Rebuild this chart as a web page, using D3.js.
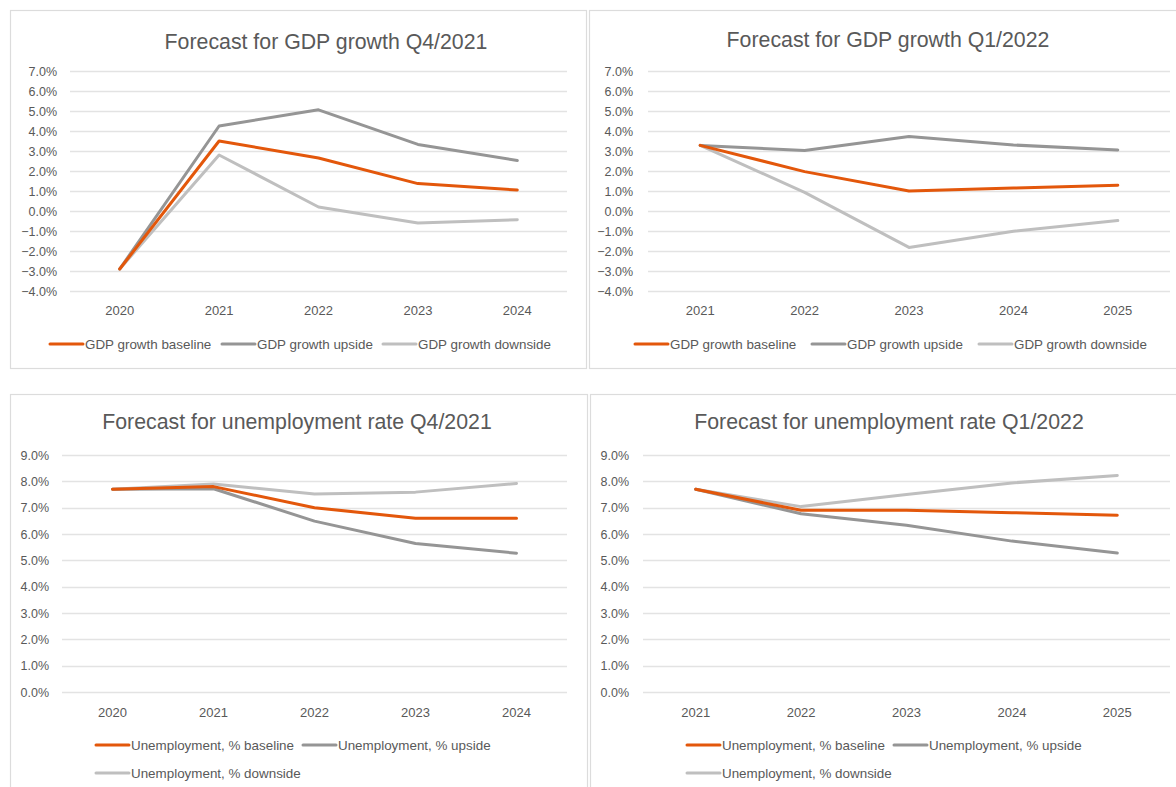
<!DOCTYPE html>
<html>
<head>
<meta charset="utf-8">
<script src="https://cdn.jsdelivr.net/npm/d3@7"></script>
<style>
  html, body { margin: 0; padding: 0; background: #ffffff; }
  svg { display: block; }
  text { font-family: "Liberation Sans", Arial, sans-serif; fill: #595959; }
</style>
</head>
<body>
<svg id="chart" width="1176" height="787"></svg>
<script>
// ---------------- DATA ----------------
const yearsQ4 = ["2020", "2021", "2022", "2023", "2024"];
const yearsQ1 = ["2021", "2022", "2023", "2024", "2025"];

const gdpTitleQ4 = "Forecast for GDP growth Q4/2021";
const gdpTitleQ1 = "Forecast for GDP growth Q1/2022";
const unTitleQ4 = "Forecast for unemployment rate Q4/2021";
const unTitleQ1 = "Forecast for unemployment rate Q1/2022";

const gdpSeriesNames = ["GDP growth baseline", "GDP growth upside", "GDP growth downside"];
const unSeriesNames = ["Unemployment, % baseline", "Unemployment, % upside", "Unemployment, % downside"];

// GDP growth, Q4/2021 forecast (%)
const gdpQ4Baseline = [-2.9, 3.5, 2.65, 1.37, 1.05];
const gdpQ4Upside   = [-2.9, 4.25, 5.06, 3.33, 2.53];
const gdpQ4Downside = [-2.9, 2.8, 0.2, -0.6, -0.44];

// GDP growth, Q1/2022 forecast (%)
const gdpQ1Baseline = [3.28, 1.97, 1.0, 1.15, 1.29];
const gdpQ1Upside   = [3.28, 3.02, 3.73, 3.3, 3.05];
const gdpQ1Downside = [3.28, 0.93, -1.82, -1.01, -0.48];

// Unemployment, Q4/2021 forecast (%)
const unQ4Baseline = [7.7, 7.8, 7.0, 6.6, 6.6];
const unQ4Upside   = [7.7, 7.72, 6.49, 5.64, 5.27];
const unQ4Downside = [7.7, 7.9, 7.52, 7.59, 7.92];

// Unemployment, Q1/2022 forecast (%)
const unQ1Baseline = [7.7, 6.9, 6.9, 6.81, 6.71];
const unQ1Upside   = [7.7, 6.77, 6.33, 5.73, 5.28];
const unQ1Downside = [7.7, 7.04, 7.5, 7.94, 8.22];

const gdpTicks = [-4, -3, -2, -1, 0, 1, 2, 3, 4, 5, 6, 7];
const unTicks = [0, 1, 2, 3, 4, 5, 6, 7, 8, 9];

// ---------------- STYLE ----------------
const seriesColors = ["#E3570B", "#959595", "#BFBFBF"];
const gridColor = "#E3E3E3";
const borderColor = "#DCDCDC";

const svg = d3.select("#chart");

function drawPanel(cfg) {
  const g = svg.append("g");

  // panel frame
  g.append("rect")
    .attr("x", cfg.box[0] + 0.5).attr("y", cfg.box[1] + 0.5)
    .attr("width", cfg.box[2]).attr("height", cfg.box[3])
    .attr("fill", "#fff").attr("stroke", borderColor).attr("stroke-width", 1.2);

  // title
  g.append("text")
    .attr("x", cfg.titleX).attr("y", cfg.titleY)
    .attr("text-anchor", "middle")
    .style("font-size", "21.3px")
    .text(cfg.title);

  const x = d3.scaleBand().domain(cfg.categories).range([cfg.plot.x0, cfg.plot.x1]);
  const y = d3.scaleLinear().domain(cfg.domain).range([cfg.plot.yBottom, cfg.plot.yTop]);

  // gridlines
  g.append("g").selectAll("line").data(cfg.ticks).join("line")
    .attr("x1", cfg.plot.x0).attr("x2", cfg.plot.x1)
    .attr("y1", d => Math.round(y(d)) + 0.5).attr("y2", d => Math.round(y(d)) + 0.5)
    .attr("stroke", gridColor).attr("stroke-width", 1.3);

  // y axis labels (via d3 axis, no domain/ticks lines)
  const yAxis = d3.axisLeft(y).tickValues(cfg.ticks)
    .tickFormat(d => d3.format(".1f")(d) + "%").tickSize(0).tickPadding(0);
  const ya = g.append("g").attr("transform", `translate(${cfg.yLabelRight},0)`).call(yAxis);
  ya.select(".domain").remove();
  ya.selectAll("text").style("font-size", "12.5px").attr("fill", "#595959")
    .style("font-family", '"Liberation Sans", Arial, sans-serif');

  // x axis labels
  const xAxis = d3.axisBottom(x).tickSize(0).tickPadding(0);
  const xa = g.append("g").attr("transform", `translate(0,${cfg.xLabelY})`).call(xAxis);
  xa.select(".domain").remove();
  xa.selectAll("text").style("font-size", "13px").attr("fill", "#595959")
    .style("font-family", '"Liberation Sans", Arial, sans-serif');

  // lines
  const line = d3.line()
    .x((d, i) => x(cfg.categories[i]) + x.bandwidth() / 2)
    .y(d => y(d));

  // draw downside, upside, then baseline on top
  [2, 1, 0].forEach(k => {
    g.append("path")
      .datum(cfg.series[k])
      .attr("d", line)
      .attr("fill", "none")
      .attr("stroke", seriesColors[k])
      .attr("stroke-width", 3)
      .attr("stroke-linejoin", "round")
      .attr("stroke-linecap", "round");
  });

  // legend
  cfg.legend.forEach((pos, k) => {
    g.append("line")
      .attr("x1", pos[0]).attr("x2", pos[0] + 33)
      .attr("y1", pos[1]).attr("y2", pos[1])
      .attr("stroke", seriesColors[k]).attr("stroke-width", 3)
      .attr("stroke-linecap", "round");
    g.append("text")
      .attr("x", pos[0] + 35).attr("y", pos[1])
      .attr("dy", "0.35em")
      .style("font-size", "13.4px")
      .text(cfg.names[k]);
  });
}

drawPanel({
  box: [10, 10, 576, 358],
  title: gdpTitleQ4, titleX: 326, titleY: 49,
  categories: yearsQ4,
  series: [gdpQ4Baseline, gdpQ4Upside, gdpQ4Downside],
  names: gdpSeriesNames,
  domain: [-4, 7], ticks: gdpTicks,
  plot: { x0: 70, x1: 567, yTop: 71, yBottom: 291 },
  yLabelRight: 57, xLabelY: 306,
  legend: [[50, 344], [222, 344], [383, 344]]
});

drawPanel({
  box: [589, 10, 600, 358],
  title: gdpTitleQ1, titleX: 888, titleY: 47,
  categories: yearsQ1,
  series: [gdpQ1Baseline, gdpQ1Upside, gdpQ1Downside],
  names: gdpSeriesNames,
  domain: [-4, 7], ticks: gdpTicks,
  plot: { x0: 648, x1: 1170, yTop: 71, yBottom: 291 },
  yLabelRight: 633, xLabelY: 306,
  legend: [[635, 344], [812, 344], [979, 344]]
});

drawPanel({
  box: [10, 394, 577, 400],
  title: unTitleQ4, titleX: 297, titleY: 429,
  categories: yearsQ4,
  series: [unQ4Baseline, unQ4Upside, unQ4Downside],
  names: unSeriesNames,
  domain: [0, 9], ticks: unTicks,
  plot: { x0: 62, x1: 567, yTop: 455, yBottom: 692 },
  yLabelRight: 49, xLabelY: 708,
  legend: [[96, 745], [303, 745], [96, 773]]
});

drawPanel({
  box: [590, 394, 600, 400],
  title: unTitleQ1, titleX: 889, titleY: 429,
  categories: yearsQ1,
  series: [unQ1Baseline, unQ1Upside, unQ1Downside],
  names: unSeriesNames,
  domain: [0, 9], ticks: unTicks,
  plot: { x0: 643, x1: 1170, yTop: 455, yBottom: 692 },
  yLabelRight: 629, xLabelY: 708,
  legend: [[687, 745], [894, 745], [687, 773]]
});
</script>
</body>
</html>
